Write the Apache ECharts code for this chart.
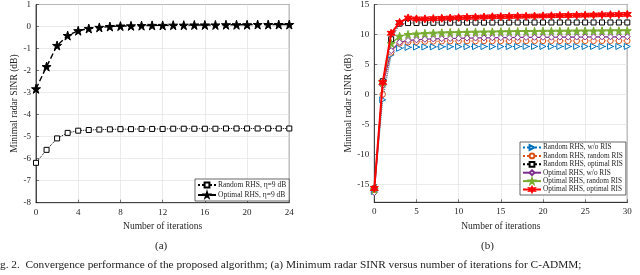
<!DOCTYPE html>
<html><head><meta charset="utf-8">
<script src="https://cdn.jsdelivr.net/npm/echarts@6/dist/echarts.min.js"></script>
<style>html,body{margin:0;padding:0;background:#fff}#c{width:640px;height:275px}</style>
</head><body><div id="c"></div>
<script>
// ---- data ----
const itersA = Array.from({length:25},(_,i)=>i);
const randomA = [-6.19,-5.6,-5.08,-4.83,-4.73,-4.7,-4.68,-4.67,-4.66,-4.66,-4.65,-4.65,-4.65,-4.64,-4.64,-4.64,-4.64,-4.64,-4.63,-4.63,-4.63,-4.63,-4.63,-4.63,-4.63];
const optimalA = [-2.83,-1.82,-0.86,-0.41,-0.19,-0.09,-0.04,0.0,0.02,0.03,0.04,0.05,0.05,0.06,0.06,0.07,0.07,0.07,0.08,0.08,0.08,0.09,0.09,0.09,0.09];
const namesA = ['Random RHS, η=9 dB','Optimal RHS, η=9 dB'];

const itersB = Array.from({length:31},(_,i)=>i);
const randWo  = [-16.2,-0.9,6.6,7.7,7.85,7.9,7.92,7.94,7.95,7.96,7.97,7.97,7.98,7.98,7.98,7.99,7.99,7.99,8.0,8.0,8.0,8.0,8.0,8.0,8.0,8.0,8.0,8.0,8.0,8.0,8.0];
const randRand= [-15.8,0.0,7.0,8.5,8.7,8.78,8.82,8.85,8.87,8.88,8.89,8.9,8.9,8.9,8.91,8.91,8.91,8.92,8.92,8.92,8.92,8.93,8.93,8.93,8.93,8.93,8.93,8.94,8.94,8.94,8.94];
const randOpt = [-15.7,2.2,9.2,11.8,11.9,11.92,11.94,11.95,11.96,11.97,11.97,11.98,11.98,11.98,11.99,11.99,11.99,12.0,12.0,12.0,12.0,12.0,12.0,12.0,12.0,12.0,12.0,12.0,12.0,12.0,12.0];
const optWo   = [-16.4,1.5,7.3,8.7,9.0,9.1,9.2,9.25,9.3,9.33,9.36,9.39,9.41,9.43,9.45,9.47,9.48,9.5,9.51,9.52,9.53,9.54,9.55,9.56,9.57,9.58,9.59,9.6,9.6,9.61,9.62];
const optRand = [-15.9,2.0,8.5,9.7,10.0,10.1,10.18,10.24,10.28,10.32,10.35,10.38,10.4,10.42,10.44,10.46,10.48,10.5,10.51,10.52,10.54,10.55,10.56,10.57,10.58,10.59,10.6,10.61,10.62,10.63,10.64];
const optOpt  = [-15.7,2.0,10.2,12.0,12.75,12.6,12.6,12.65,12.7,12.75,12.8,12.85,12.88,12.92,12.95,12.98,13.0,13.03,13.05,13.08,13.1,13.12,13.15,13.17,13.2,13.22,13.25,13.28,13.3,13.32,13.35];
const namesB = ['Random RHS, w/o RIS','Random RHS, random RIS','Random RHS, optimal RIS','Optimal RHS, w/o RIS','Optimal RHS, random RIS','Optimal RHS, optimal RIS'];

const yTicksB = [-15,-10,-5,0,5,10,15];

// ---- style ----
const FONT = "'Liberation Serif','Times New Roman',serif";
const STAR = 'path://M50,0 L61,35 L98,35 L68,57 L79,91 L50,70 L21,91 L32,57 L2,35 L39,35 Z';
const HEX = 'path://M50,0 L62,29 L93,25 L74,50 L93,75 L62,71 L50,100 L38,71 L7,75 L26,50 L7,25 L38,29 Z';
const RTRI = 'path://M0,0 L100,50 L0,100 Z';

function axisCommon(){
  return {
    axisLine:{show:true,onZero:false,lineStyle:{color:'#262626',width:0.8}},
    axisTick:{show:true,inside:true,length:3,lineStyle:{color:'#262626',width:0.6}},
    axisLabel:{color:'#262626',fontFamily:FONT,fontSize:9,margin:5},
    splitLine:{show:true,lineStyle:{color:'#e3e3e3',width:0.7}},
    nameTextStyle:{color:'#262626',fontFamily:FONT,fontSize:9.5},
  };
}

function mk(i, name, data, color, lineType, lw, symbol, size, filled, z){
  return {
    type:'line', name, xAxisIndex:i, yAxisIndex:i, data: data.map((v,k)=>[k,v]),
    symbol, symbolSize:size, showSymbol:true, z:z||2,
    lineStyle:{color, type:lineType, width:lw},
    itemStyle:{color: filled?color:'#fff', borderColor:color, borderWidth:1},
    emphasis:{disabled:true}, animation:false
  };
}

const chart = echarts.init(document.getElementById('c'), null, {renderer:'canvas'});
const yB = Object.assign(axisCommon(),{type:'value',gridIndex:1,min:-18,max:15,name:'Minimal radar SINR (dB)',nameLocation:'middle',nameGap:21});
yB.axisLabel = Object.assign({}, yB.axisLabel, {customValues:yTicksB});
yB.axisTick = Object.assign({}, yB.axisTick, {customValues:yTicksB});
const option = {
  animation:false,
  grid:[
    {left:36,top:3.3,width:253.3,height:199.4,show:true,borderColor:'#262626',borderWidth:0.8,backgroundColor:'#fff'},
    {left:374.3,top:3.3,width:253,height:199,show:true,borderColor:'#262626',borderWidth:0.8,backgroundColor:'#fff'}
  ],
  xAxis:[
    Object.assign(axisCommon(),{type:'value',gridIndex:0,min:0,max:24,interval:4,name:'Number of iterations',nameLocation:'middle',nameGap:17}),
    Object.assign(axisCommon(),{type:'value',gridIndex:1,min:0,max:30,interval:5,name:'Number of iterations',nameLocation:'middle',nameGap:17})
  ],
  yAxis:[
    Object.assign(axisCommon(),{type:'value',gridIndex:0,min:-8,max:1,interval:1,name:'Minimal radar SINR (dB)',nameLocation:'middle',nameGap:15}),
    yB
  ],
  legend:[
    {data:namesA, orient:'vertical', left:195, top:179, itemWidth:18, itemHeight:6, itemGap:2,
     backgroundColor:'#fff', borderColor:'#262626', borderWidth:0.7, padding:[2,3,2,2],
     textStyle:{fontFamily:FONT,fontSize:7.5,color:'#262626',padding:[0,0,0,-3]}},
    {data:namesB, orient:'vertical', left:520, top:142, itemWidth:18, itemHeight:6, itemGap:1.4,
     backgroundColor:'#fff', borderColor:'#262626', borderWidth:0.7, padding:[2,3,2,2],
     textStyle:{fontFamily:FONT,fontSize:7.3,color:'#262626',padding:[0,0,0,-3]}}
  ],
  series:[
    mk(0,namesA[0],randomA,'#000','dotted',1,'rect',5,false),
    mk(0,namesA[1],optimalA,'#000','dashed',1.4,STAR,9,true),
    mk(1,namesB[0],randWo,'#0072BD','dotted',1,RTRI,6,false),
    mk(1,namesB[1],randRand,'#D95319','dotted',1,'circle',5.5,false),
    mk(1,namesB[2],randOpt,'#000','dotted',1,'rect',5,false),
    mk(1,namesB[3],optWo,'#7E2F8E','solid',1.2,'diamond',6,false),
    mk(1,namesB[4],optRand,'#77AC30','solid',1.2,STAR,8,true),
    mk(1,namesB[5],optOpt,'#FF0000','solid',2,HEX,8,true,5)
  ],
  graphic:[
    {type:'text',left:155,top:241,style:{text:'(a)',font:'11px '+FONT,fill:'#222'}},
    {type:'text',left:481,top:241,style:{text:'(b)',font:'11px '+FONT,fill:'#222'}},
    {type:'text',left:0,top:260,style:{text:'g. 2.  Convergence performance of the proposed algorithm; (a) Minimum radar SINR versus number of iterations for C-ADMM;',font:'11.3px '+FONT,fill:'#222'}}
  ]
};
chart.setOption(option);
</script></body></html>
